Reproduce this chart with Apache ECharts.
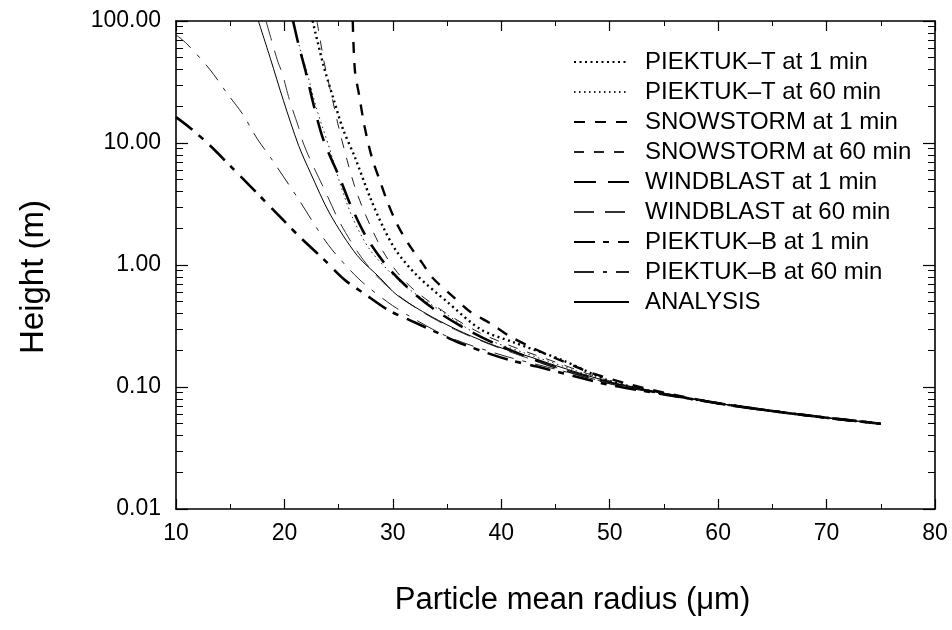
<!DOCTYPE html>
<html>
<head>
<meta charset="utf-8">
<script src="https://cdn.jsdelivr.net/npm/echarts@6/dist/echarts.min.js"></script>
<style>html,body{margin:0;padding:0;background:#fff}#c{width:952px;height:630px}</style>
</head>
<body>
<div id="c"></div>
<script>
// ---- data (radius in µm, height in m) ----
const xTicks = [10, 20, 30, 40, 50, 60, 70, 80];
const yTicks = [0.01, 0.1, 1, 10, 100];

const seriesNames = [
  "PIEKTUK\u2013T at 1 min", "PIEKTUK\u2013T at 60 min",
  "SNOWSTORM at 1 min", "SNOWSTORM at 60 min",
  "WINDBLAST at 1 min", "WINDBLAST at 60 min",
  "PIEKTUK\u2013B at 1 min", "PIEKTUK\u2013B at 60 min",
  "ANALYSIS"
];

const pt1_r = [22.6, 23.6, 24.5, 25.4, 26.5, 27.9, 29.1, 30.3, 32.2, 35.0, 38.1, 41.1, 45.7, 50, 55, 60, 65, 70, 75];
const pt1_h = [100, 43.3, 23.4, 13.0, 7.65, 3.58, 2.05, 1.31, 0.825, 0.50, 0.297, 0.233, 0.165, 0.112, 0.088, 0.0735, 0.0635, 0.056, 0.05];

const pt60_r = [20.7, 22.1, 23.0, 24.2, 25.1, 26.3, 27.9, 30.5, 32.5, 34.7, 38.1, 42.0, 46, 50, 55, 60, 65, 70, 75];
const pt60_h = [100, 37.3, 18.7, 8.8, 4.73, 2.43, 1.33, 0.75, 0.546, 0.407, 0.26, 0.192, 0.145, 0.11, 0.088, 0.0735, 0.0635, 0.056, 0.05];

const sn1_r = [26.3, 26.5, 26.9, 27.4, 28.1, 28.8, 29.5, 30.4, 31.5, 32.7, 33.7, 35.6, 37.1, 39.2, 40.8, 43.1, 45.0, 46.7, 48.2, 52, 55, 60, 65, 70, 75];
const sn1_h = [100, 39.3, 24.4, 13.5, 7.42, 4.92, 3.29, 2.15, 1.46, 1.04, 0.778, 0.546, 0.416, 0.324, 0.26, 0.205, 0.172, 0.149, 0.131, 0.104, 0.09, 0.0735, 0.0635, 0.056, 0.05];

const sn60_r = [23.0, 23.7, 24.4, 25.0, 25.8, 26.5, 27.3, 28.2, 29.1, 30.4, 32.0, 35.0, 38.0, 41.0, 45.0, 50, 55, 60, 65, 70, 75];
const sn60_h = [100, 44.2, 23.4, 13.5, 7.13, 4.35, 2.81, 1.86, 1.29, 0.872, 0.62, 0.398, 0.279, 0.215, 0.16, 0.112, 0.088, 0.0735, 0.0635, 0.056, 0.05];

const wb1_r = [20.8, 21.3, 22.0, 22.7, 23.6, 25.2, 26.1, 27.6, 29.5, 31.8, 34.1, 37.1, 40, 45, 50, 55, 60, 65, 70, 75];
const wb1_h = [100, 64.2, 37.3, 20.4, 10.6, 4.92, 3.1, 1.67, 0.966, 0.602, 0.416, 0.287, 0.215, 0.145, 0.108, 0.088, 0.0735, 0.0635, 0.056, 0.05];

const wb60_r = [18.3, 18.9, 19.4, 19.8, 20.3, 20.7, 21.3, 21.7, 22.4, 23.8, 25.1, 26.8, 28.6, 30.5, 33, 36, 40, 45, 50, 55, 60, 65, 70, 75];
const wb60_h = [100, 65.2, 46.2, 37.3, 25.4, 19.4, 13.5, 10.2, 7.24, 3.96, 2.24, 1.26, 0.797, 0.564, 0.398, 0.288, 0.206, 0.145, 0.107, 0.088, 0.0735, 0.0635, 0.056, 0.05];

const pb1_r = [10, 11.3, 13.1, 15.0, 17.5, 19.9, 21.5, 23.5, 25.6, 27.3, 29.6, 31.6, 34.1, 36.0, 38.7, 40.8, 43.3, 46.4, 50, 55, 60, 65, 70, 75];
const pb1_h = [16.3, 13.3, 9.6, 6.5, 3.86, 2.33, 1.67, 1.14, 0.75, 0.588, 0.426, 0.352, 0.279, 0.233, 0.19, 0.166, 0.147, 0.125, 0.104, 0.087, 0.0735, 0.0635, 0.056, 0.05];

const pb60_r = [10, 11, 13.1, 14.8, 16.1, 17.5, 18.7, 21.2, 24.0, 26.8, 29.5, 31.4, 35, 40, 45, 50, 55, 60, 65, 70, 75];
const pb60_h = [77, 65, 40.3, 24.9, 17.5, 10.8, 7.64, 3.57, 1.48, 0.778, 0.498, 0.387, 0.26, 0.183, 0.14, 0.108, 0.088, 0.0735, 0.0635, 0.056, 0.05];

const an_r = [17.6, 18.7, 19.9, 21.3, 22.4, 24.2, 26.7, 28.8, 30.4, 33.5, 36.5, 39.6, 42.7, 45, 50, 55, 60, 65, 70, 75];
const an_h = [100, 49.4, 22.4, 9.58, 5.7, 2.62, 1.2, 0.787, 0.565, 0.38, 0.279, 0.215, 0.176, 0.15, 0.11, 0.088, 0.0735, 0.0635, 0.056, 0.05];

const seriesR = [pt1_r, pt60_r, sn1_r, sn60_r, wb1_r, wb60_r, pb1_r, pb60_r, an_r];
const seriesH = [pt1_h, pt60_h, sn1_h, sn60_h, wb1_h, wb60_h, pb1_h, pb60_h, an_h];

// ---- styles ----
const FONT = "'Liberation Sans', Arial, Helvetica, sans-serif";
const styles = [
  {width: 2.4, type: [2, 3.5], color: '#000'},
  {width: 1, type: [1.5, 3.5], color: '#222'},
  {width: 2.4, type: [11, 10], color: '#000'},
  {width: 1, type: [10, 10], color: '#222'},
  {width: 2.6, type: [22, 12], color: '#000'},
  {width: 1, type: [20, 11], color: '#333'},
  {width: 2.6, type: [21, 8, 6, 9], color: '#000'},
  {width: 1, type: [20, 9, 4, 9], color: '#222'},
  {width: 1, type: 'solid', color: '#000'}
];

const chart = echarts.init(document.getElementById('c'), null, {renderer: 'canvas'});

const axisLine = {show: true, lineStyle: {color: '#000', width: 1.6}};
function xAx(pos, showLabel) {
  return {
    type: 'value', position: pos, min: xTicks[0], max: xTicks[xTicks.length - 1], interval: 10,
    axisLine: axisLine,
    axisTick: {show: true, inside: true, length: 10, lineStyle: {color: '#000', width: 1.2}},
    minorTick: {show: true, splitNumber: 2, length: 5, lineStyle: {color: '#000', width: 1}},
    splitLine: {show: false},
    axisLabel: {show: showLabel, color: '#000', fontSize: 23, fontFamily: FONT, margin: 13},
    name: showLabel ? 'Particle mean radius (\u03BCm)' : '',
    nameLocation: 'middle', nameGap: 76,
    nameTextStyle: {color: '#000', fontSize: 31, fontFamily: FONT, padding: [0, 0, 0, 34]}
  };
}
function yAx(pos, showLabel) {
  return {
    type: 'log', logBase: 10, position: pos, min: yTicks[0], max: yTicks[yTicks.length - 1],
    axisLine: axisLine,
    axisTick: {show: true, inside: true, length: 12, lineStyle: {color: '#000', width: 1.2}},
    minorTick: {show: true, splitNumber: 9, length: 7, lineStyle: {color: '#000', width: 1}},
    splitLine: {show: false},
    axisLabel: {show: showLabel, color: '#000', fontSize: 23, fontFamily: FONT, margin: 15,
      formatter: v => Number(v).toFixed(2)},
    name: showLabel ? 'Height (m)' : '',
    nameLocation: 'middle', nameGap: 126,
    nameTextStyle: {color: '#000', fontSize: 33, fontFamily: FONT, padding: [0, 24, 0, 0]}
  };
}

const option = {
  animation: false,
  backgroundColor: '#fff',
  grid: {left: 176, right: 17, top: 21, bottom: 121, containLabel: false, outerBoundsMode: 'none'},
  xAxis: [xAx('bottom', true), xAx('top', false)],
  yAxis: [yAx('left', true), yAx('right', false)],
  legend: {
    orient: 'vertical', left: 573, top: 50, padding: 0,
    itemWidth: 55, itemHeight: 14, itemGap: 6,
    data: seriesNames,
    itemStyle: {opacity: 0, borderWidth: 0},
    textStyle: {color: '#000', fontSize: 24, fontFamily: FONT, lineHeight: 24, padding: [0, 0, 0, 11]}
  },
  series: seriesNames.map((name, i) => ({
    name: name,
    type: 'line',
    xAxisIndex: 0, yAxisIndex: 0,
    symbol: 'none',
    smooth: 0.3,
    clip: true,
    lineStyle: styles[i],
    itemStyle: {color: styles[i].color},
    data: seriesR[i].map((r, k) => [r, seriesH[i][k]])
  }))
};
chart.setOption(option);
</script>
</body>
</html>
